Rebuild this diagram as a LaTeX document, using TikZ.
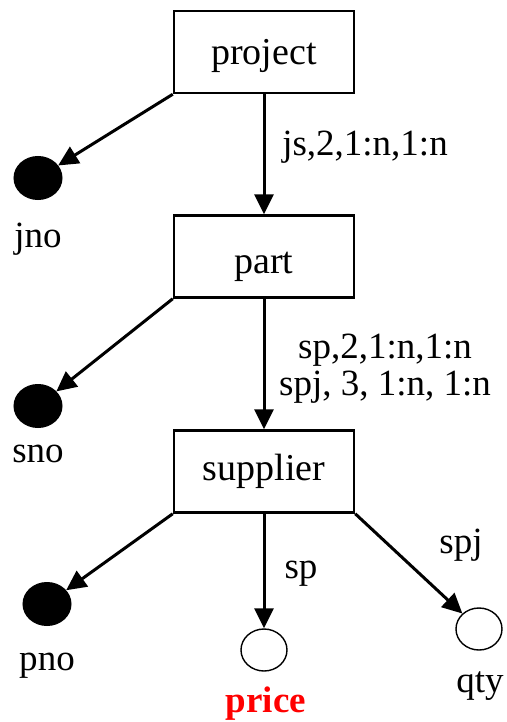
\documentclass[tikz,border=0pt]{standalone}
\usepackage{fontspec}
\setmainfont{Liberation Serif}
\usetikzlibrary{arrows.meta,shapes.geometric}
\begin{document}
\begin{tikzpicture}[x=1pt,y=-1pt,
  entity/.style={draw,line width=2.5pt,rectangle,minimum width=180pt,minimum height=82pt,
    inner sep=0pt},
  keyattr/.style={ellipse,fill=black,draw=black,line width=1pt,minimum width=48pt,minimum height=43pt,inner sep=0pt},
  plainattr/.style={ellipse,draw=black,line width=1.4pt,minimum width=46pt,minimum height=42pt,inner sep=0pt},
  lbl/.style={anchor=base,inner sep=0pt,font=\fontsize{37}{40}\selectfont},
  boxlbl/.style={anchor=base,inner sep=0pt,font=\fontsize{38}{41}\selectfont},
  link/.style={line width=3pt,-{Triangle[length=20pt,width=19pt]}}]
\useasboundingbox (0,0) rectangle (506,722);

% entities
\node[entity] (project)  at (264,52)    {};
\node[entity] (part)     at (264,256.5) {};
\node[entity] (supplier) at (264,471.5) {};
\node[boxlbl] (projecttxt)  at (264,65)  {project};
\node[boxlbl] (parttxt)     at (264,273) {part};
\node[boxlbl] (suppliertxt) at (264,480) {supplier};

% attributes
\node[keyattr]   (jno)   at (38,178) {};
\node[keyattr]   (sno)   at (38,406) {};
\node[keyattr]   (pno)   at (47,604) {};
\node[plainattr] (price) at (264,650) {};
\node[plainattr] (qty)   at (479,629) {};

\node[lbl] (jnotxt)   at (38,247)  {jno};
\node[lbl] (snotxt)   at (38,462)  {sno};
\node[lbl] (pnotxt)   at (47,670)  {pno};
\node[lbl,text=red,font=\fontsize{37}{40}\selectfont\bfseries] (pricetxt) at (266,712) {price};
\node[lbl] (qtytxt)   at (480,692) {qty};

% connectors
\draw[link] (project.south west) -- (jno);
\draw[link] (project.south) -- (part.north);
\draw[link] (part.south west) -- (sno);
\draw[link] (part.south) -- (supplier.north);
\draw[link] (supplier.south west) -- (pno);
\draw[link] (supplier.south) -- (price.north);
\draw[link] (supplier.south east) -- (qty);

% connector labels
\node[lbl] (jslbl)  at (365,156) {js,2,1:n,1:n};
\node[lbl] (splbl)  at (385,358) {sp,2,1:n,1:n};
\node[lbl] (spjlbl) at (385,395) {spj, 3, 1:n, 1:n};
\node[lbl] (sp)     at (301,578) {sp};
\node[lbl] (spj)    at (461,553) {spj};
\end{tikzpicture}
\end{document}
